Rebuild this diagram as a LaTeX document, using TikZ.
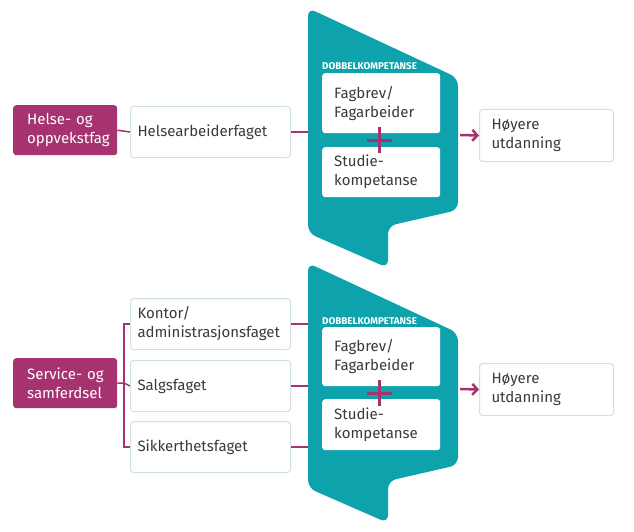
\documentclass[tikz,border=0pt]{standalone}
\usepackage{fontspec}
\setmainfont{Fira Sans}
\usetikzlibrary{arrows.meta}
\definecolor{magc}{HTML}{A63370}
\definecolor{tealc}{HTML}{0EA2AD}
\definecolor{boxc}{HTML}{CFE1E4}
\definecolor{txtc}{HTML}{3A3A3A}
\begin{document}
\begin{tikzpicture}[x=1pt,y=-1pt,
  cat/.style={fill=magc, rounded corners=3pt, text=white, anchor=north west,
    minimum width=104pt, minimum height=50pt, text width=92pt, inner xsep=6pt,
    align=left, font=\fontsize{15}{19}\selectfont},
  fagbox/.style={draw=boxc, line width=1pt, fill=white, rounded corners=3pt, text=txtc,
    anchor=north west, minimum width=160pt, text width=146pt, inner xsep=7pt,
    align=left, font=\fontsize{15}{19}\selectfont},
  hoybox/.style={draw=boxc, line width=1pt, fill=white, rounded corners=3pt, text=txtc,
    anchor=north west, minimum width=134pt, minimum height=52pt, text width=110pt, inner xsep=12pt,
    align=left, font=\fontsize{15}{19}\selectfont},
  inbox/.style={fill=white, rounded corners=3pt, text=txtc,
    anchor=north west, minimum width=118pt, text width=94pt, inner xsep=12pt,
    align=left, font=\fontsize{15}{19}\selectfont},
  lbl/.style={anchor=base west, inner sep=0pt, text=white, font=\fontsize{9.8}{10}\selectfont\bfseries},
  funnel/.style={fill=tealc, rounded corners=8pt},
  conn/.style={draw=magc, line width=1.5pt},
  arr/.style={draw=magc, line width=2.5pt, -{Straight Barb[length=5pt,width=11pt]}},
  plusc/.style={draw=magc, line width=3pt}
]
\useasboundingbox (0,0) rectangle (634,532);

% ---------- top group ----------
\node[cat] (cat1) at (13,105) {\hspace*{8pt}Helse- og\\\hspace*{8pt}oppvekstfag};
\node[fagbox, minimum height=51pt] (helse) at (130,106) {Helsearbeiderfaget};
\coordinate (s1w) at (308,131.5);
\draw[conn] (cat1.east) -- (helse.west);
\draw[conn] (helse.east) -- (helse.east -| s1w);

\fill[funnel] (308,8) -- (458,78) -- (458,210) -- (388,226) -- (388,268) -- (308,233) -- cycle;
\node[lbl] (dk1) at (322,70) {DOBBELKOMPETANSE};
\node[inbox, minimum height=60pt] (fb1) at (322,73) {Fagbrev/\\Fagarbeider};
\node[inbox, minimum height=50pt] (sk1) at (322,147) {Studie-\\kompetanse};
\draw[plusc] (367,140) -- (392,140);
\draw[plusc] (379.5,127) -- (379.5,153);

\node[hoybox] (hoy1) at (479,109) {Høyere\\utdanning};
\coordinate (a1) at (460,135);
\draw[arr] (a1) -- (hoy1.west);

% ---------- bottom group ----------
\node[cat] (cat2) at (13,358) {\hspace*{8pt}Service- og\\\hspace*{8pt}samferdsel};
\node[fagbox, minimum height=51pt] (kontor) at (130,298) {Kontor/\\administrasjonsfaget};
\node[fagbox, minimum height=51pt] (salg) at (130,360) {Salgsfaget};
\node[fagbox, minimum height=51pt] (sikker) at (130,421) {Sikkerthetsfaget};
\coordinate (br) at (124,383);
\draw[conn] (cat2.east) -- (br);
\draw[conn] (kontor.west) -| (br) |- (sikker.west);
\draw[conn] (br) -- (salg.west);
\coordinate (s2w) at (308,385);
\draw[conn] (kontor.east) -- (kontor.east -| s2w);
\draw[conn] (salg.east) -- (salg.east -| s2w);
\draw[conn] (sikker.east) -- (sikker.east -| s2w);

\fill[funnel] (308,263) -- (458,333) -- (458,465) -- (388,481) -- (388,523) -- (308,488) -- cycle;
\node[lbl] (dk2) at (322,324) {DOBBELKOMPETANSE};
\node[inbox, minimum height=59pt] (fb2) at (322,327) {Fagbrev/\\Fagarbeider};
\node[inbox, minimum height=51pt] (sk2) at (322,399) {Studie-\\kompetanse};
\draw[plusc] (367,393) -- (392,393);
\draw[plusc] (379.5,380) -- (379.5,406);

\node[hoybox] (hoy2) at (479,363) {Høyere\\utdanning};
\coordinate (a2) at (460,389);
\draw[arr] (a2) -- (hoy2.west);
\end{tikzpicture}
\end{document}
